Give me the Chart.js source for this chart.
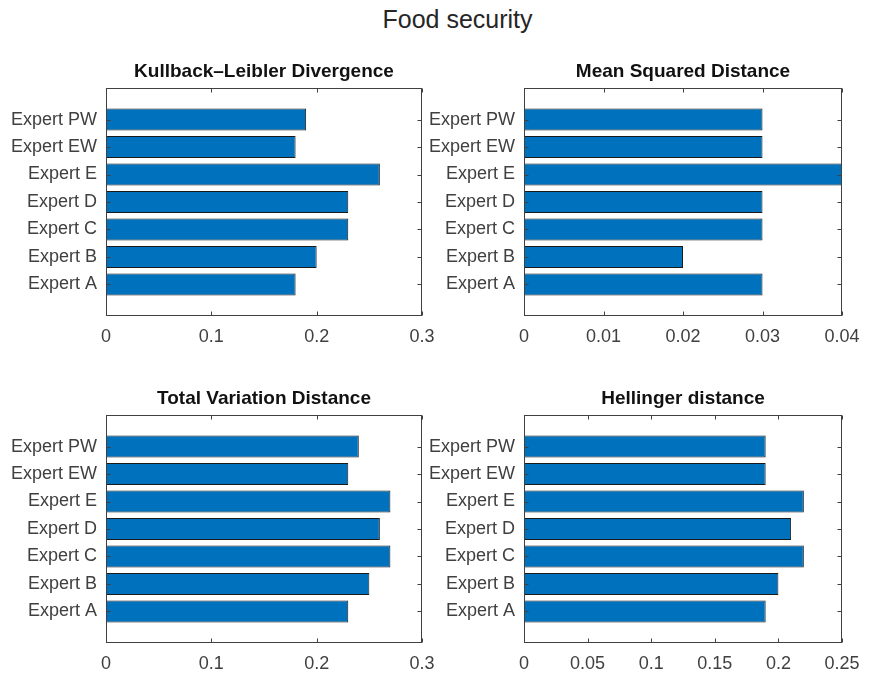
<!DOCTYPE html>
<html>
<head>
<meta charset="utf-8">
<script src="https://cdn.jsdelivr.net/npm/chart.js@4/dist/chart.umd.min.js"></script>
<style>
  body { margin: 0; background: #fff; }
  #page { position: relative; width: 873px; height: 675px; overflow: hidden; background: #fff; }
  #suptitle { position: absolute; left: 21px; top: 7px; width: 873px; text-align: center; line-height: 25px;
              font-size: 25px; font-family: "Liberation Sans", Arial, Helvetica, sans-serif; color: #262626; }
  canvas { position: absolute; }
</style>
</head>
<body>
<div id="page">
  <div id="suptitle">Food security</div>
  <canvas id="klChart" width="440" height="320" style="left:0;top:40px"></canvas>
  <canvas id="msdChart" width="455" height="320" style="left:418px;top:40px"></canvas>
  <canvas id="tvChart" width="440" height="308" style="left:0;top:367px"></canvas>
  <canvas id="hdChart" width="455" height="308" style="left:418px;top:367px"></canvas>
</div>
<script>
// Dữ liệu
const experts = ['Expert A', 'Expert B', 'Expert C', 'Expert D', 'Expert E', 'Expert EW', 'Expert PW'];
const klValues = [0.18, 0.20, 0.23, 0.23, 0.26, 0.18, 0.19];
const msdValues = [0.03, 0.02, 0.03, 0.03, 0.04, 0.03, 0.03];
const tvValues = [0.23, 0.25, 0.27, 0.26, 0.27, 0.23, 0.24];
const hdValues = [0.19, 0.20, 0.22, 0.21, 0.22, 0.19, 0.19];
const klTicks = [0, 0.1, 0.2, 0.3];
const msdTicks = [0, 0.01, 0.02, 0.03, 0.04];
const tvTicks = [0, 0.1, 0.2, 0.3];
const hdTicks = [0, 0.05, 0.1, 0.15, 0.2, 0.25];

Chart.defaults.font.family = '"Liberation Sans", Arial, Helvetica, sans-serif';
Chart.defaults.animation = false;

// Vẽ khung hộp và vạch chia hướng vào trong (kiểu MATLAB)
const framePlugin = {
    id: 'frame',
    afterDatasetsDraw(chart) {
        const { ctx, chartArea: a, scales: { x, y } } = chart;
        const L = Math.round(a.left) + 0.5, R = Math.round(a.right) - 0.5;
        const T = Math.round(a.top) + 0.5, B = Math.round(a.bottom) - 0.5;
        ctx.save();
        ctx.strokeStyle = '#404040';
        ctx.lineWidth = 1;
        ctx.beginPath();
        x.ticks.forEach(t => {
            const px = Math.round(x.getPixelForValue(t.value)) + 0.5;
            ctx.moveTo(px, B); ctx.lineTo(px, B - 4);
            ctx.moveTo(px, T); ctx.lineTo(px, T + 4);
        });
        y.ticks.forEach(t => {
            const py = Math.round(y.getPixelForValue(t.value)) + 0.5;
            ctx.moveTo(L, py); ctx.lineTo(L + 4, py);
            ctx.moveTo(R, py); ctx.lineTo(R - 4, py);
        });
        ctx.stroke();
        ctx.strokeRect(L, T, R - L, B - T);
        ctx.restore();
    }
};

function renderPanel(id, title, values, ticks, rightPad, axisHeight) {
    const ctx = document.getElementById(id).getContext('2d');
    return new Chart(ctx, {
        type: 'bar',
        data: {
            datasets: [{
                data: values.map((v, i) => ({ x: v, y: i })),
                backgroundColor: '#0072BD',
                borderColor: '#1a1a1a',
                borderWidth: 1,
                barPercentage: 0.8,
                categoryPercentage: 1
            }]
        },
        options: {
            indexAxis: 'y',
            responsive: false,
            layout: { padding: { left: 0, right: rightPad, top: 0, bottom: 0 } },
            plugins: {
                legend: { display: false },
                tooltip: { enabled: false },
                title: {
                    display: true,
                    fullSize: false,
                    text: title,
                    color: '#111',
                    font: { size: 19, weight: 'bold' },
                    padding: { top: 20.6, bottom: 4.6 }
                }
            },
            scales: {
                x: {
                    type: 'linear',
                    min: ticks[0],
                    max: ticks[ticks.length - 1],
                    afterBuildTicks: s => { s.ticks = ticks.map(v => ({ value: v })); },
                    afterFit: s => { s.height = axisHeight; s.paddingLeft = 0; s.paddingRight = 0; },
                    grid: { display: false, drawTicks: false },
                    border: { display: false },
                    ticks: {
                        color: '#404040',
                        font: { size: 18 },
                        padding: 10,
                        maxRotation: 0,
                        autoSkip: false,
                        callback: v => String(+v.toFixed(3))
                    }
                },
                y: {
                    type: 'linear',
                    offset: false,
                    min: -1.15,
                    max: 7.15,
                    afterBuildTicks: s => { s.ticks = experts.map((e, i) => ({ value: i })); },
                    afterFit: s => { s.width = 106; s.paddingTop = 0; s.paddingBottom = 0; },
                    grid: { display: false, drawTicks: false },
                    border: { display: false },
                    ticks: {
                        color: '#404040',
                        font: { size: 18 },
                        padding: 9,
                        autoSkip: false,
                        callback: v => experts[v]
                    }
                }
            }
        },
        plugins: [framePlugin]
    });
}

renderPanel('klChart', 'Kullback\u2013Leibler Divergence', klValues, klTicks, 18, 44);
renderPanel('msdChart', 'Mean Squared Distance', msdValues, msdTicks, 31, 44);
renderPanel('tvChart', 'Total Variation Distance', tvValues, tvTicks, 18, 32);
renderPanel('hdChart', 'Hellinger distance', hdValues, hdTicks, 31, 32);
</script>
</body>
</html>
